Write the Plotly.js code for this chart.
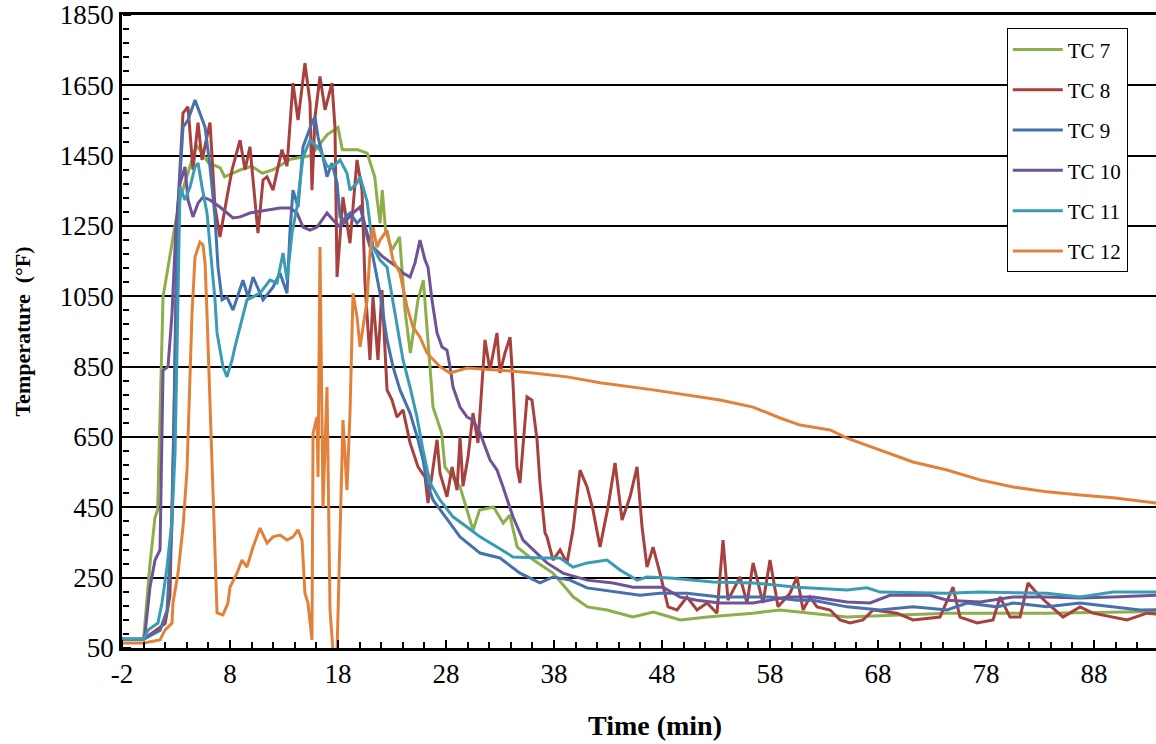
<!DOCTYPE html>
<html>
<head>
<meta charset="utf-8">
<script src="https://cdn.plot.ly/plotly-3.0.1.min.js"></script>
<style>
  html, body { margin: 0; padding: 0; overflow: hidden; background: #fff; }
</style>
</head>
<body>
<div id="myDiv"></div>
<script>
// thermocouple readings, time in min, temperature in °F
var tc7x = [-2, 0, 0.6, 1.06, 1.3, 1.8, 2.9, 3.4, 3.9, 4.9, 6.0, 7.1, 7.5, 9.0, 10.0, 11.0, 12.0, 13.6, 14.5, 15.5, 17.0, 18.0, 18.4, 19.8, 20.7, 21.4, 21.6, 21.9, 22.1, 22.4, 23.0, 23.7, 24.0, 24.2, 24.7, 25.4, 25.9, 26.5, 26.8, 27.6, 27.9, 29.3, 30.5, 31.1, 32.4, 33.3, 33.9, 34.6, 36.1, 37.9, 39.8, 41.1, 42.9, 45.3, 47.2, 49.7, 52.2, 56.4, 58.9, 65.1, 74.4, 83.6, 96.7];
var tc7y = [75, 75, 292, 422, 442, 1048, 1250, 1330, 1380, 1480, 1430, 1415, 1390, 1410, 1420, 1400, 1410, 1440, 1445, 1450, 1510, 1530, 1467, 1467, 1457, 1390, 1332, 1258, 1352, 1238, 1182, 1219, 1096, 1011, 889, 1039, 1096, 850, 735, 661, 565, 508, 385, 442, 451, 405, 428, 337, 300, 263, 195, 167, 158, 138, 152, 130, 138, 149, 158, 138, 149, 149, 155];

var tc8x = [-2, 0, 2.0, 2.44, 2.81, 3.09, 3.65, 4.11, 4.57, 5.04, 5.41, 6.15, 6.61, 7.07, 7.72, 8.19, 8.93, 9.39, 9.85, 10.59, 11.06, 11.43, 11.98, 12.81, 13.28, 13.83, 14.30, 14.94, 15.41, 15.59, 15.87, 16.33, 16.80, 17.44, 17.72, 17.91, 18.46, 19.11, 19.76, 20.22, 20.50, 20.96, 21.24, 21.70, 22.07, 22.54, 23.00, 23.46, 24.02, 24.67, 25.41, 26.06, 26.33, 26.80, 27.17, 27.44, 28.09, 28.56, 29.02, 29.30, 29.57, 30.04, 30.50, 30.96, 31.33, 31.61, 32.07, 32.72, 33.00, 33.46, 33.93, 34.20, 34.57, 34.85, 35.50, 35.96, 36.43, 36.70, 37.17, 37.35, 37.91, 38.56, 39.20, 39.76, 40.41, 41.06, 41.61, 42.26, 43.00, 43.65, 44.30, 45.04, 45.69, 46.15, 46.61, 47.17, 47.81, 48.56, 49.39, 50.31, 51.24, 52.17, 53.09, 53.65, 54.11, 55.22, 55.87, 56.43, 57.35, 58.00, 58.74, 59.85, 60.50, 61.06, 61.70, 62.35, 63.56, 64.48, 65.41, 66.61, 67.54, 69.76, 71.24, 73.74, 74.94, 75.59, 77.17, 78.65, 79.30, 80.22, 81.15, 81.89, 82.72, 83.65, 85.13, 86.70, 87.90, 89.76, 91.06, 92.90, 96.7];
var tc8y = [75, 75, 120, 200, 700, 1258, 1571, 1589, 1410, 1544, 1438, 1544, 1304, 1219, 1332, 1410, 1494, 1410, 1475, 1230, 1381, 1390, 1352, 1467, 1420, 1656, 1551, 1713, 1600, 1352, 1560, 1675, 1580, 1656, 1531, 1105, 1332, 1201, 1438, 1352, 1088, 869, 1048, 869, 1068, 784, 755, 707, 727, 633, 565, 536, 462, 565, 642, 548, 480, 565, 499, 650, 510, 593, 718, 633, 784, 926, 840, 946, 832, 889, 934, 804, 565, 519, 764, 755, 642, 519, 377, 366, 300, 329, 292, 386, 556, 508, 442, 337, 451, 576, 414, 480, 565, 394, 280, 337, 263, 167, 158, 195, 158, 178, 149, 357, 186, 252, 178, 292, 178, 300, 167, 206, 252, 158, 195, 167, 158, 130, 121, 130, 158, 149, 130, 138, 223, 138, 121, 130, 195, 138, 138, 235, 206, 178, 138, 167, 149, 138, 130, 149, 140];

var tc9x = [-2, 0, 1.52, 2.17, 2.63, 2.91, 3.19, 3.65, 4.11, 4.76, 5.22, 5.69, 6.15, 6.61, 6.89, 7.26, 7.72, 8.28, 9.20, 9.67, 10.13, 11.06, 11.98, 12.63, 13.28, 13.56, 13.83, 14.30, 14.76, 15.59, 15.87, 16.15, 16.61, 16.98, 17.44, 17.91, 18.19, 18.46, 19.11, 19.76, 20.31, 20.69, 21.24, 21.89, 22.54, 23.09, 23.74, 24.67, 25.41, 25.87, 26.24, 26.80, 28.37, 29.30, 31.15, 33.00, 34.85, 36.70, 37.91, 39.48, 41.06, 44.11, 45.96, 47.81, 50.31, 53.37, 58.00, 60.50, 62.0, 65.13, 68.19, 71.24, 74.39, 76.24, 79.02, 80.5, 83.65, 86.7, 89.76, 92.26, 96.7];
var tc9y = [75, 75, 100, 158, 400, 900, 1300, 1531, 1551, 1608, 1571, 1531, 1418, 1276, 1133, 1040, 1048, 1011, 1096, 1048, 1105, 1040, 1076, 1116, 1059, 1238, 1352, 1304, 1475, 1544, 1560, 1503, 1446, 1390, 1429, 1372, 1276, 1267, 1287, 1258, 1276, 1219, 1162, 1059, 926, 850, 784, 718, 642, 585, 519, 471, 405, 366, 320, 306, 263, 235, 252, 243, 221, 209, 200, 206, 206, 195, 195, 186, 186, 167, 158, 167, 158, 178, 167, 178, 167, 178, 167, 158, 160];

var tc10x = [-2, 0, 0.13, 0.59, 1.06, 1.52, 1.80, 2.26, 2.63, 3.0, 3.37, 3.83, 4.11, 4.57, 5.04, 5.50, 6.15, 7.07, 8.28, 8.93, 9.85, 11.43, 12.63, 13.56, 14.20, 14.76, 15.41, 16.06, 16.98, 17.54, 18.19, 19.39, 20.04, 20.69, 21.24, 22.17, 23.46, 24.02, 24.67, 25.13, 25.59, 26.06, 26.33, 26.70, 27.17, 27.63, 28.09, 28.37, 28.65, 29.30, 29.94, 30.50, 31.15, 32.07, 32.72, 33.28, 34.20, 35.13, 36.06, 37.35, 38.83, 41.06, 43.46, 45.31, 48.09, 49.67, 51.24, 53.37, 56.43, 59.57, 61.98, 65.13, 67.26, 69.11, 72.81, 74.39, 77.44, 80.50, 83.65, 86.70, 89.76, 93.74, 96.7];
var tc10y = [75, 75, 90, 223, 300, 329, 840, 850, 1000, 1250, 1370, 1418, 1324, 1276, 1315, 1332, 1324, 1304, 1273, 1276, 1287, 1295, 1301, 1301, 1287, 1247, 1238, 1247, 1287, 1267, 1247, 1287, 1304, 1230, 1190, 1162, 1133, 1116, 1105, 1145, 1210, 1153, 1133, 1040, 946, 906, 897, 850, 792, 735, 707, 698, 661, 585, 556, 508, 423, 357, 329, 292, 263, 243, 235, 223, 223, 195, 186, 178, 178, 195, 195, 181, 178, 200, 200, 186, 181, 195, 195, 192, 195, 200, 200];

var tc11x = [-2, 0, 0.41, 1.33, 1.70, 2.17, 2.63, 2.91, 3.09, 3.37, 3.83, 4.30, 4.76, 5.04, 5.41, 5.87, 6.33, 6.61, 6.80, 7.35, 7.72, 8.19, 8.46, 8.93, 9.57, 10.78, 11.70, 12.35, 12.91, 13.28, 13.74, 14.20, 14.76, 15.41, 15.69, 16.33, 16.98, 17.54, 18.19, 18.83, 19.11, 19.76, 20.04, 20.69, 21.24, 21.89, 22.54, 23.46, 24.02, 24.67, 25.31, 25.87, 26.52, 27.44, 28.65, 29.94, 31.15, 32.72, 34.20, 36.98, 38.56, 39.76, 41.06, 42.91, 44.11, 45.69, 46.61, 48.74, 52.72, 56.43, 60.50, 65.13, 66.98, 68.19, 74.39, 77.44, 83.65, 86.70, 89.76, 93.74, 96.7];
var tc11y = [75, 75, 101, 121, 178, 280, 414, 605, 889, 1361, 1324, 1361, 1418, 1429, 1361, 1287, 1133, 1040, 946, 850, 821, 869, 906, 963, 1040, 1059, 1096, 1088, 1173, 1096, 1230, 1304, 1446, 1494, 1486, 1467, 1420, 1418, 1438, 1400, 1352, 1372, 1390, 1320, 1190, 1153, 1133, 963, 869, 792, 707, 613, 519, 471, 423, 394, 366, 337, 309, 306, 306, 280, 292, 300, 272, 243, 252, 249, 238, 235, 223, 215, 221, 209, 206, 209, 206, 195, 209, 209, 209];

var tc12x = [-2, 0, 1.52, 1.98, 2.63, 2.72, 3.19, 3.65, 4.02, 4.30, 4.48, 4.76, 5.22, 5.50, 5.69, 5.87, 6.15, 6.43, 6.80, 7.35, 7.81, 8.00, 8.65, 9.11, 9.57, 10.13, 10.78, 11.43, 11.98, 12.63, 13.28, 13.83, 14.30, 14.67, 14.94, 15.22, 15.59, 15.69, 16.06, 16.15, 16.33, 16.61, 16.98, 17.26, 17.54, 17.91, 18.19, 18.46, 18.83, 19.11, 19.39, 19.76, 20.04, 20.69, 20.96, 21.24, 21.61, 21.89, 22.54, 22.81, 23.09, 23.74, 24.39, 24.94, 25.59, 26.24, 27.44, 28.37, 29.94, 33.00, 36.06, 39.20, 42.26, 47.17, 53.37, 56.43, 58.93, 60.78, 63.56, 65.13, 68.19, 71.24, 74.39, 77.44, 80.50, 83.65, 86.70, 89.76, 93.74, 96.7];
var tc12y = [64, 64, 73, 101, 121, 178, 263, 394, 556, 792, 1000, 1162, 1204, 1196, 1145, 1000, 747, 528, 150, 144, 178, 223, 263, 300, 280, 337, 391, 348, 366, 371, 357, 366, 386, 357, 206, 178, 73, 661, 707, 536, 1190, 451, 792, 158, 40, 40, 394, 698, 499, 718, 1059, 991, 906, 1039, 1173, 1247, 1190, 1210, 1238, 1201, 1153, 1116, 1020, 963, 934, 889, 850, 832, 846, 840, 832, 821, 804, 784, 755, 735, 704, 684, 670, 647, 613, 579, 556, 528, 508, 494, 485, 477, 462, 445];

var names = ['TC 7', 'TC 8', 'TC 9', 'TC 10', 'TC 11', 'TC 12'];
var colors = ['#8CAE4B', '#A8413D', '#4571AE', '#6E5396', '#3A9BB5', '#E2823A'];
var xTickVals = [-2, 8, 18, 28, 38, 48, 58, 68, 78, 88];
var xTickText = ['-2', '8', '18', '28', '38', '48', '58', '68', '78', '88'];
var xRange = [-2, 96.7];
var yRange = [50, 1850];

var xs = [tc7x, tc8x, tc9x, tc10x, tc11x, tc12x];
var ys = [tc7y, tc8y, tc9y, tc10y, tc11y, tc12y];

var data = [];
for (var i = 0; i < names.length; i++) {
  data.push({
    x: xs[i],
    y: ys[i],
    mode: 'lines',
    type: 'scatter',
    name: names[i],
    legendgroup: 'g' + i,
    line: {color: colors[i], width: 3},
  });
}
// empty trace so the overlay axes (used only for the inward tick marks) get drawn
data.push({x: [], y: [], xaxis: 'x2', yaxis: 'y2', mode: 'lines', showlegend: false, hoverinfo: 'skip'});

var layout = {
  width: 1190,
  height: 744,
  margin: {l: 122, r: 2, t: 15, b: 96},
  paper_bgcolor: '#fff',
  plot_bgcolor: '#fff',
  font: {family: 'Liberation Serif, Times New Roman, serif', color: '#000'},
  showlegend: true,
  legend: {
    x: 0.830, y: 0.979,
    xanchor: 'left', yanchor: 'top',
    bordercolor: '#000', borderwidth: 1,
    bgcolor: '#fff',
    font: {size: 21},
    itemwidth: 50,
    traceorder: 'grouped',
    tracegroupgap: 10,
  },
  xaxis: {
    range: xRange,
    tickmode: 'array',
    tickvals: xTickVals,
    ticktext: xTickText,
    ticks: '',
    showline: true,
    linecolor: '#000',
    linewidth: 2.5,
    mirror: true,
    showgrid: false,
    zeroline: false,
    tickfont: {size: 27},
    title: {text: '<b>Time (min)</b>', font: {size: 28}, standoff: 28},
  },
  yaxis: {
    range: yRange,
    tick0: 50,
    dtick: 200,
    ticks: '',
    showline: true,
    linecolor: '#000',
    linewidth: 2.5,
    mirror: true,
    showgrid: true,
    gridcolor: '#000',
    gridwidth: 2,
    zeroline: false,
    tickfont: {size: 27},
    title: {text: '<b>Temperature  (°F)</b>', font: {size: 22}, standoff: 24},
  },
  // tick marks pointing into the plot, drawn by axes on the opposite side
  xaxis2: {
    overlaying: 'x',
    range: xRange,
    side: 'top',
    anchor: 'free',
    position: 0,
    tick0: -2,
    dtick: 10,
    ticks: 'outside',
    ticklen: 8,
    tickwidth: 2,
    tickcolor: '#000',
    showticklabels: false,
    showline: false,
    showgrid: false,
    zeroline: false,
    minor: {dtick: 2, tick0: -2, ticks: 'outside', ticklen: 6, tickwidth: 2, tickcolor: '#000'},
  },
  yaxis2: {
    overlaying: 'y',
    range: yRange,
    side: 'right',
    anchor: 'free',
    position: 0,
    tick0: 50,
    dtick: 200,
    ticks: 'outside',
    ticklen: 8,
    tickwidth: 2,
    tickcolor: '#000',
    showticklabels: false,
    showline: false,
    showgrid: false,
    zeroline: false,
    minor: {dtick: 40, tick0: 50, ticks: 'outside', ticklen: 6, tickwidth: 2, tickcolor: '#000'},
  },
};

Plotly.newPlot('myDiv', data, layout, {displayModeBar: false});
</script>
</body>
</html>
